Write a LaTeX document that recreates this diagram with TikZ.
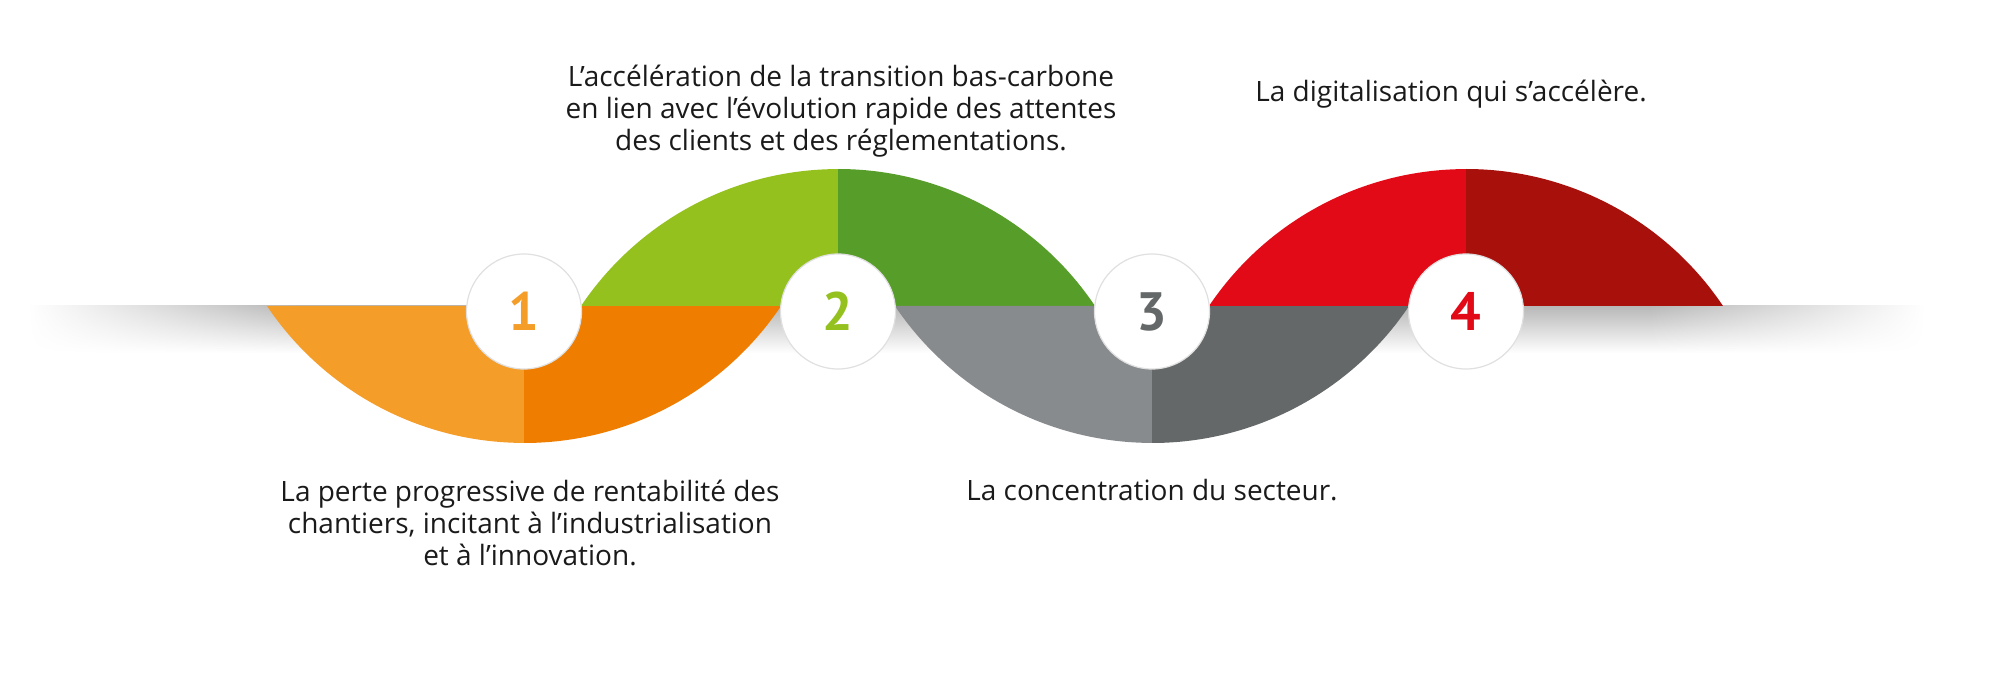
\documentclass[tikz,border=0pt]{standalone}
\usepackage{fontspec}
\setmainfont{Open Sans}
\newfontfamily\numfont{PT Sans}
\usetikzlibrary{fadings}
\definecolor{ink}{HTML}{1A1A1A}
\definecolor{orangeA}{HTML}{F49D29}
\definecolor{orangeB}{HTML}{EF7D00}
\definecolor{greenA}{HTML}{95C11F}
\definecolor{greenB}{HTML}{579D29}
\definecolor{greyA}{HTML}{878B8D}
\definecolor{greyB}{HTML}{656868}
\definecolor{redA}{HTML}{E20A16}
\definecolor{redB}{HTML}{A8100C}
\tikzfading[name=fade in,left color=transparent!100,right color=transparent!0]
\tikzfading[name=fade out,left color=transparent!0,right color=transparent!100]
\tikzset{every node/.style={font=\fontsize{14}{16}\selectfont,text=ink,align=center,inner sep=0pt},
band/.style={top color=black!28,bottom color=white},
num/.style={circle,fill=white,draw=black!12,line width=.6pt,minimum size=57.5pt,
font=\numfont\bfseries\fontsize{27}{30}\selectfont}}

\begin{document}
\begin{tikzpicture}[x=.5pt,y=.5pt]
\useasboundingbox (0,0) rectangle (2000,-673);
% shadow under the axis
\path[band,path fading=fade in] (28,-306) rectangle (300,-353);
\path[band] (300,-306) rectangle (1650,-353);
\path[band,path fading=fade out] (1650,-306) rectangle (1925,-353);
% humps
\begin{scope}[shift={(524,-306)},yscale=-1]
\fill[orangeA] (-257,0) arc[start angle=146.1,end angle=90,radius=309.6] -- (0,0) -- cycle;
\fill[orangeB] (0,0) -- (0,137) arc[start angle=90,end angle=33.9,radius=309.6] -- cycle;
\end{scope}
\begin{scope}[shift={(838,-306)}]
\fill[greenA] (-257,0) arc[start angle=146.1,end angle=90,radius=309.6] -- (0,0) -- cycle;
\fill[greenB] (0,0) -- (0,137) arc[start angle=90,end angle=33.9,radius=309.6] -- cycle;
\end{scope}
\begin{scope}[shift={(1152,-306)},yscale=-1]
\fill[greyA] (-257,0) arc[start angle=146.1,end angle=90,radius=309.6] -- (0,0) -- cycle;
\fill[greyB] (0,0) -- (0,137) arc[start angle=90,end angle=33.9,radius=309.6] -- cycle;
\end{scope}
\begin{scope}[shift={(1466,-306)}]
\fill[redA] (-257,0) arc[start angle=146.1,end angle=90,radius=309.6] -- (0,0) -- cycle;
\fill[redB] (0,0) -- (0,137) arc[start angle=90,end angle=33.9,radius=309.6] -- cycle;
\end{scope}
% numbered circles
\node[num,text=orangeA] (n1) at (524,-311.5) {1};
\node[num,text=greenA] (n2) at (838,-311.5) {2};
\node[num,text=greyB] (n3) at (1152,-311.5) {3};
\node[num,text=redA] (n4) at (1466,-311.5) {4};
% texts
\node[anchor=base] (t1) at (530,-565)
{La perte progressive de rentabilité des\\chantiers, incitant à l’industrialisation\\et à l’innovation.};
\node[anchor=base] (t2) at (841,-150.7)
{L’accélération de la transition bas-carbone\\en lien avec l’évolution rapide des attentes\\des clients et des réglementations.};
\node[anchor=base] (t3) at (1152,-500.7) {La concentration du secteur.};
\node[anchor=base] (t4) at (1451,-101.7) {La digitalisation qui s’accélère.};
\end{tikzpicture}
\end{document}
